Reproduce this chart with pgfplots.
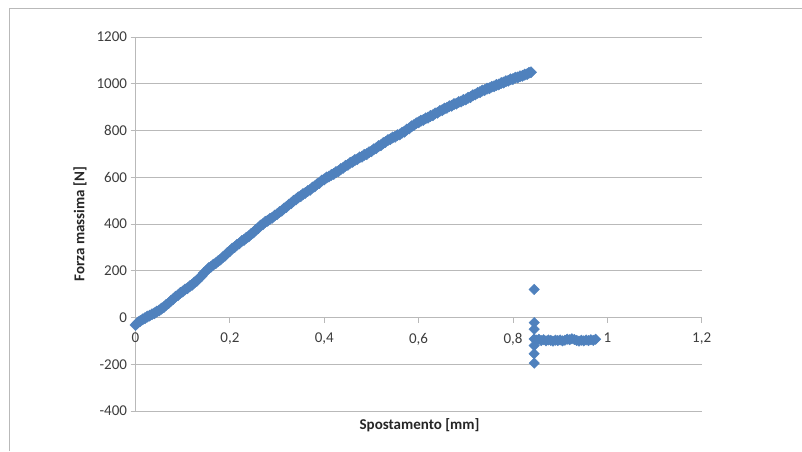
\documentclass[border=0pt]{standalone}
\usepackage{fontspec}
\setmainfont{Carlito}
\usepackage{pgfplots}
\usepackage{pgfplotstable}
\pgfplotsset{compat=1.18}

\definecolor{serie}{RGB}{79,129,189}
\definecolor{griglia}{RGB}{185,185,185}
\definecolor{testo}{RGB}{60,60,60}

% Prova a trazione: spostamento [mm] / forza [N]
\pgfplotstableread{
x y
0.000 -32
0.003 -26
0.006 -20
0.010 -15
0.015 -8
0.020 -3
0.025 4
0.030 8
0.035 14
0.040 18
0.045 25
0.050 30
0.055 38
0.060 44
0.065 54
0.070 61
0.075 71
0.080 79
0.085 89
0.090 95
0.095 105
0.100 111
0.105 120
0.110 125
0.115 134
0.120 140
0.125 150
0.130 157
0.135 169
0.140 177
0.145 191
0.150 199
0.155 211
0.160 217
0.165 226
0.170 232
0.175 241
0.180 248
0.185 258
0.190 265
0.195 277
0.200 284
0.205 295
0.210 301
0.215 311
0.220 317
0.225 327
0.230 332
0.235 341
0.240 347
0.245 357
0.250 364
0.255 375
0.260 382
0.265 393
0.270 399
0.275 409
0.280 414
0.285 422
0.290 427
0.295 436
0.300 442
0.305 451
0.310 457
0.315 467
0.320 473
0.325 483
0.330 489
0.335 499
0.340 505
0.345 514
0.350 519
0.355 528
0.360 533
0.365 541
0.370 546
0.375 556
0.380 561
0.385 571
0.390 576
0.395 586
0.400 591
0.405 599
0.410 603
0.415 610
0.420 614
0.425 622
0.430 626
0.435 635
0.440 640
0.445 649
0.450 653
0.455 662
0.460 666
0.465 674
0.470 677
0.475 685
0.480 688
0.485 696
0.490 699
0.495 707
0.500 711
0.505 720
0.510 724
0.515 733
0.520 737
0.525 746
0.530 751
0.535 759
0.540 763
0.545 770
0.550 773
0.555 780
0.560 783
0.565 791
0.570 795
0.575 804
0.580 809
0.585 818
0.590 823
0.595 831
0.600 835
0.605 842
0.610 845
0.615 852
0.620 855
0.625 862
0.630 865
0.635 873
0.640 876
0.645 884
0.650 887
0.655 894
0.660 897
0.665 904
0.670 906
0.675 913
0.680 915
0.685 922
0.690 924
0.695 931
0.700 933
0.705 940
0.710 943
0.715 951
0.720 954
0.725 961
0.730 964
0.735 971
0.740 973
0.745 979
0.750 981
0.755 987
0.760 989
0.765 995
0.770 997
0.775 1003
0.780 1005
0.785 1011
0.790 1013
0.795 1019
0.800 1020
0.805 1026
0.810 1027
0.815 1032
0.820 1034
0.825 1039
0.830 1041
0.834 1047
0.838 1049
}\curva

% Dopo la rottura del provino
\pgfplotstableread{
x y
0.845 120
0.845 -22
0.845 -50
0.845 -120
0.845 -155
0.845 -195
0.845 -92
0.850 -97
0.855 -93
0.860 -99
0.865 -95
0.870 -100
0.875 -96
0.880 -98
0.885 -101
0.890 -97
0.895 -99
0.900 -96
0.905 -100
0.910 -97
0.915 -93
0.920 -95
0.925 -91
0.930 -94
0.935 -98
0.940 -101
0.945 -97
0.950 -100
0.955 -96
0.960 -99
0.965 -95
0.970 -98
0.975 -93
}\rottura

\begin{document}
\begin{tikzpicture}
\useasboundingbox (0pt,0pt) rectangle (802pt,451pt);
\draw[griglia, line width=1pt] (9pt,0pt) -- (9pt,442pt) -- (802pt,442pt);
\begin{axis}[
  at={(135.5pt,40pt)}, anchor=south west,
  scale only axis, width=566.2pt, height=374pt,
  xmin=0, xmax=1.2, ymin=-400, ymax=1200,
  axis x line=middle, axis y line=left,
  axis line style={griglia, line width=0.9pt, -},
  hide obscured x ticks=false, hide obscured y ticks=false,
  xtick={0,0.2,0.4,0.6,0.8,1,1.2},
  ytick={-400,-200,0,200,400,600,800,1000,1200},
  tick align=outside, major tick length=5pt,
  tick style={griglia, line width=0.9pt},
  ymajorgrids, grid style={griglia, line width=0.9pt},
  /pgf/number format/assume math mode=true,
  /pgf/number format/use comma,
  /pgf/number format/1000 sep={},
  tick label style={font=\fontsize{15}{18}\selectfont, text=testo},
  x tick label style={anchor=north, yshift=-7pt},
  clip=false,
]
\addplot[only marks, mark=square*, mark size=4pt,
  mark options={rotate=45, draw=serie, fill=serie}] table {\curva};
\addplot[only marks, mark=square*, mark size=3.7pt,
  mark options={rotate=45, draw=serie, fill=serie}] table {\rottura};
\end{axis}
\node[font=\fontsize{15}{18}\selectfont\bfseries, text=black!85] at (419.5pt,26pt) {Spostamento [mm]};
\node[font=\fontsize{15}{18}\selectfont\bfseries, text=black!85, rotate=90] at (80pt,227pt) {Forza massima [N]};
\end{tikzpicture}
\end{document}
